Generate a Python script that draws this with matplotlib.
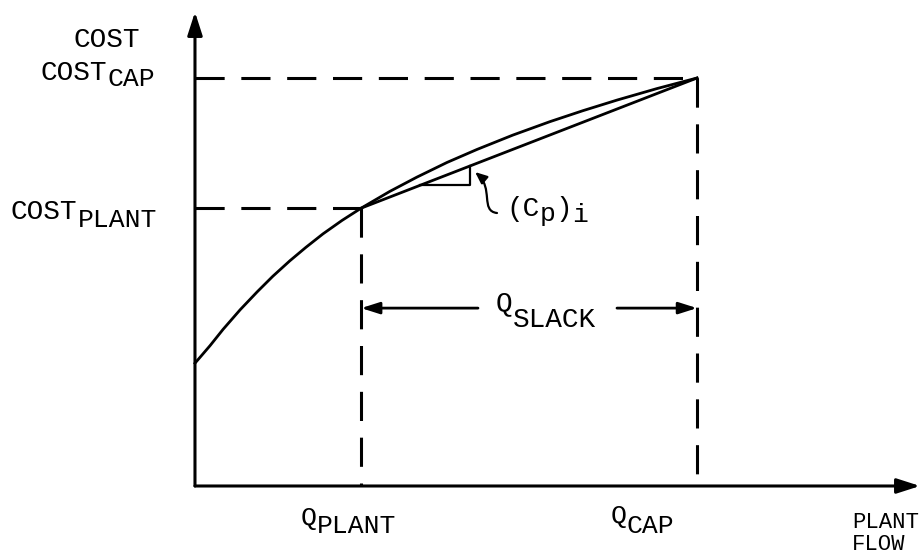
import matplotlib.pyplot as plt
from matplotlib.path import Path
from matplotlib.patches import FancyArrowPatch

# plant cost curve (flow: Q_CAP = 10, cost: COST_CAP = 10)
flow = [0.0, 0.30, 0.56, 0.90, 1.24, 1.55, 1.89, 2.21, 2.55, 2.93, 3.31,
        3.88, 4.42, 5.02, 5.62, 6.33, 7.07, 7.73, 8.41, 9.20, 10.0]
cost = [3.01, 3.44, 3.84, 4.32, 4.76, 5.14, 5.52, 5.85, 6.18, 6.51, 6.81,
        7.22, 7.57, 7.93, 8.25, 8.60, 8.93, 9.20, 9.46, 9.74, 10.0]
q_plant, q_cap = 3.31, 10.0
cost_plant, cost_cap = 6.81, 10.0
slack_level = 4.36

plt.rcParams['font.family'] = ['Liberation Mono', 'DejaVu Sans Mono']
plt.rcParams['lines.scale_dashes'] = False

fig = plt.figure(figsize=(9.23, 5.6), dpi=100)
ax = fig.add_axes([0, 0, 1, 1])
ax.axis('off')
ax.set_xlim(-3.884, 14.502)
ax.set_ylim(-1.814, 11.912)


def px(xp, yp):
    """pixel position of the picture -> data units"""
    return (xp - 195) / 50.2, (486 - yp) / 40.8


def arrow(start, end, head='-|>,head_length=1.4,head_width=0.45', lw=2.2):
    ax.annotate('', xy=end, xytext=start,
                arrowprops=dict(arrowstyle=head, lw=lw, color='black',
                                shrinkA=0, shrinkB=0, mutation_scale=10))


def label(xp, yp, parts):
    """parts: (text, shift in pixels against the previous piece, size)"""
    x, y = px(xp, yp)
    prev = None
    for text, dy, fs in parts:
        if prev is None:
            prev = ax.text(x, y, text, fontsize=fs, va='baseline', ha='left')
        else:
            prev = ax.annotate(text, xy=(1, 0), xycoords=prev, xytext=(0, dy),
                               textcoords='offset pixels', fontsize=fs,
                               va='bottom', ha='left')


dash = (0, (21, 12))

# axes
arrow((0, 0), (0, px(0, 12)[1]))
arrow((0, 0), (px(920, 0)[0], 0))

# dashed guides
ax.plot([0, q_cap], [cost_cap, cost_cap], color='black', lw=2.2, ls=dash)
ax.plot([q_cap, q_cap], [cost_cap, 0], color='black', lw=2.2, ls=dash)
ax.plot([0, q_plant], [cost_plant, cost_plant], color='black', lw=2.2, ls=dash)
ax.plot([q_plant, q_plant], [cost_plant, 0], color='black', lw=2.2, ls=dash)

# cost curve and chord
ax.plot(flow, cost, color='black', lw=2.0, solid_joinstyle='round')
ax.plot([q_plant, q_cap], [cost_plant, cost_cap], color='black', lw=2.0)

# slope triangle on the chord
slope = (cost_cap - cost_plant) / (q_cap - q_plant)
tx0, tx1 = 4.49, 5.48
ty0 = cost_plant + (tx0 - q_plant) * slope
ty1 = cost_plant + (tx1 - q_plant) * slope
ax.plot([tx0, tx1, tx1], [ty0, ty0, ty1], color='black', lw=1.6)

# curly leader to the triangle
verts = [px(497, 213), px(480, 211), px(494, 188), (tx1 + 0.1, ty1 - 0.15)]
leader = FancyArrowPatch(path=Path(verts, [Path.MOVETO, Path.CURVE4, Path.CURVE4, Path.CURVE4]),
                         arrowstyle='-|>,head_length=0.7,head_width=0.3',
                         mutation_scale=10, lw=1.6, color='black')
ax.add_patch(leader)

# Q_SLACK span
arrow((px(478, 0)[0], slack_level), (q_plant, slack_level),
      head='-|>,head_length=1.1,head_width=0.35', lw=2)
arrow((px(617, 0)[0], slack_level), (q_cap, slack_level),
      head='-|>,head_length=1.1,head_width=0.35', lw=2)

# labels
label(74, 47, [('COST', 0, 20)])
label(41, 80, [('COST', 0, 20), ('CAP', -5, 19)])
label(11, 219, [('COST', 0, 20), ('PLANT', -7, 19)])
label(506, 216, [('(C', 0, 20), ('p', -4, 19), (')', 4, 20), ('i', -5, 19)])
label(496, 310, [('Q', 0, 20), ('SLACK', -17, 20)])
label(301, 525, [('Q', 0, 19), ('PLANT', -8, 19)])
label(611, 523, [('Q', 0, 19), ('CAP', -10, 19)])
label(852, 528, [('PLANT', 0, 16)])
label(852, 550, [('FLOW', 0, 16)])

fig.savefig('out.png', dpi=100)
